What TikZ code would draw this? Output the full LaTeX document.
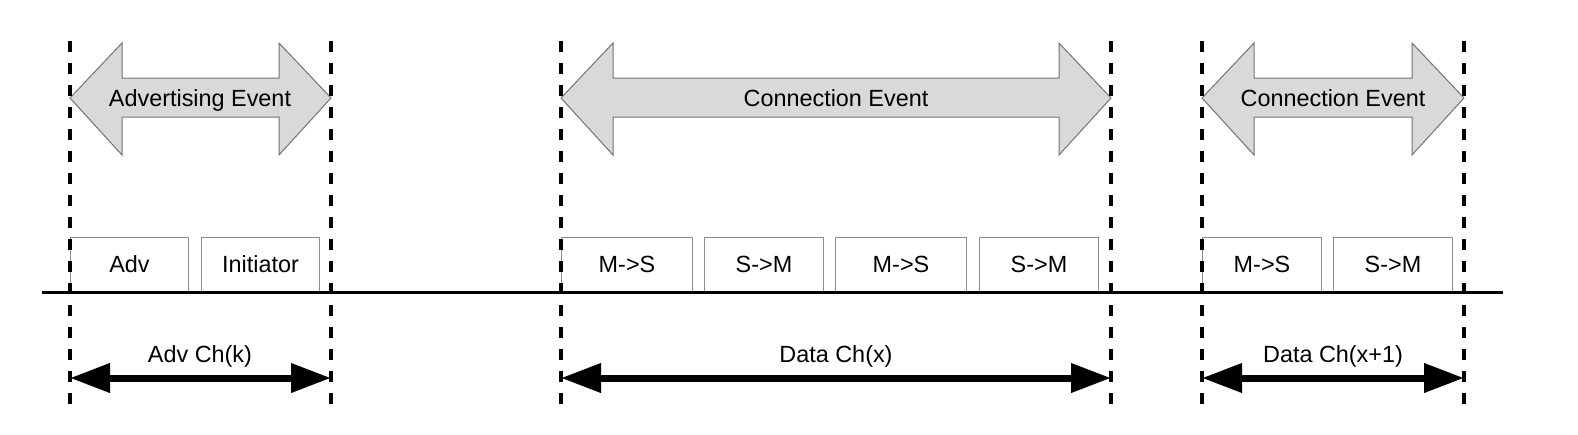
\documentclass[tikz,border=0pt]{standalone}
\usepackage{fontspec}
\setmainfont{Liberation Sans}
\usepackage{tikz}
\usetikzlibrary{arrows.meta, positioning, calc}

\begin{document}
\begin{tikzpicture}[
  x=0.5pt, y=-0.5pt,
  every node/.style={font=\fontsize{11.7}{14}\selectfont},
  slot/.style={draw=black!45, line width=0.5pt, minimum height=27pt, inner sep=0pt, anchor=south west},
  marker/.style={line width=1.8pt, dash pattern=on 5.5pt off 5.5pt},
  event/.style={draw=black!55, fill=black!15, line width=0.5pt},
  chan/.style={line width=3.5pt, {Triangle[length=20pt,width=14pt]}-{Triangle[length=20pt,width=14pt]}},
]
\useasboundingbox (0,0) rectangle (1578,434);

% markers
\coordinate (m1t) at (70,41);   \coordinate (m1b) at (70,406);
\coordinate (m2t) at (331,41);  \coordinate (m2b) at (331,406);
\coordinate (m3t) at (561,41);  \coordinate (m3b) at (561,406);
\coordinate (m4t) at (1111,41); \coordinate (m4b) at (1111,406);
\coordinate (m5t) at (1202,41); \coordinate (m5b) at (1202,406);
\coordinate (m6t) at (1464,41); \coordinate (m6b) at (1464,406);

% events
\draw[event] (70,98) -- (122,43) -- (122,78) -- (279,78) -- (279,43) -- (331,98)
  -- (279,155) -- (279,117) -- (122,117) -- (122,155) -- cycle;
\node[anchor=base] (advev) at (200,106.5) {Advertising Event};
\draw[event] (561,98) -- (613,43) -- (613,78) -- (1059,78) -- (1059,43) -- (1111,98)
  -- (1059,155) -- (1059,117) -- (613,117) -- (613,155) -- cycle;
\node[anchor=base] (conev1) at (836,106.5) {Connection Event};
\draw[event] (1202,98) -- (1254,43) -- (1254,78) -- (1412,78) -- (1412,43) -- (1464,98)
  -- (1412,155) -- (1412,117) -- (1254,117) -- (1254,155) -- cycle;
\node[anchor=base] (conev2) at (1333,106.5) {Connection Event};

% packets
\node[slot, minimum width=59pt]   (adv)  at (70,292)   {Adv};
\node[slot, minimum width=59pt]   (init) at (201,292)  {Initiator};
\node[slot, minimum width=65.5pt] (ms1)  at (561,292)  {M->S};
\node[slot, minimum width=59.5pt] (sm1)  at (704,292)  {S->M};
\node[slot, minimum width=65.5pt] (ms2)  at (835,292)  {M->S};
\node[slot, minimum width=59.5pt] (sm2)  at (979,292)  {S->M};
\node[slot, minimum width=59.5pt] (ms3)  at (1202,292) {M->S};
\node[slot, minimum width=59.5pt] (sm3)  at (1333,292) {S->M};

% time line
\coordinate (tl) at (42,292);
\coordinate (tr) at (1503,292);
\draw[line width=1.5pt] (tl) -- (tr);

\draw[marker] (m1t) -- (m1b);
\draw[marker] (m2t) -- (m2b);
\draw[marker] (m3t) -- (m3b);
\draw[marker] (m4t) -- (m4b);
\draw[marker] (m5t) -- (m5b);
\draw[marker] (m6t) -- (m6b);

% channels
\coordinate (c1) at (70,378);   \coordinate (c2) at (331,378);
\coordinate (c3) at (561,378);  \coordinate (c4) at (1111,378);
\coordinate (c5) at (1202,378); \coordinate (c6) at (1464,378);
\draw[chan] (c1) -- (c2);
\draw[chan] (c3) -- (c4);
\draw[chan] (c5) -- (c6);
\node[anchor=base] (advch)  at (200,362.5)  {Adv Ch(k)};
\node[anchor=base] (datach) at (836,362.5)  {Data Ch(x)};
\node[anchor=base] (nextch) at (1333,362.5) {Data Ch(x+1)};

\end{tikzpicture}
\end{document}
